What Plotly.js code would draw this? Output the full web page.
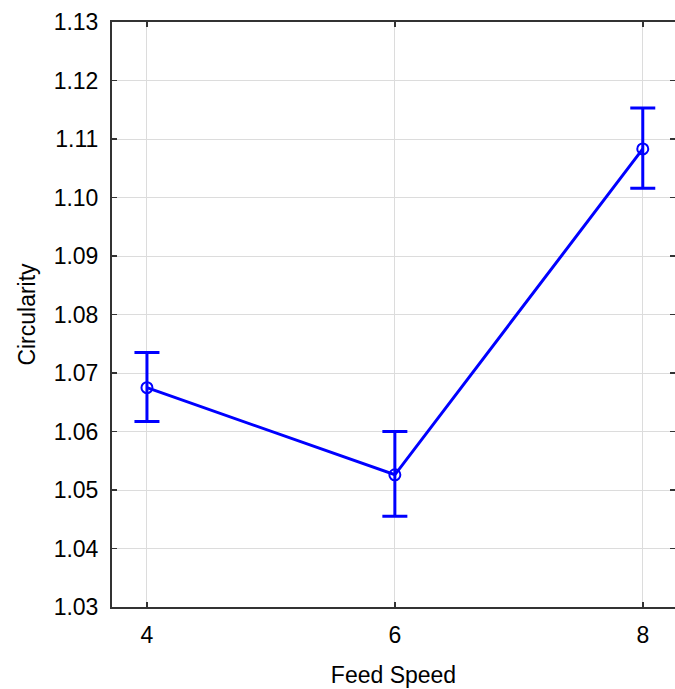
<!DOCTYPE html>
<html>
<head>
<meta charset="utf-8">
<script src="https://cdn.plot.ly/plotly-3.0.1.min.js"></script>
<style>html,body{margin:0;padding:0;background:#fff;}#chart{width:675px;height:689px;}</style>
</head>
<body>
<div id="chart"></div>
<script>
const feedSpeed = [4, 6, 8];
const circularity = [1.0675, 1.0526, 1.1083];
const upperBound = [1.0735, 1.0600, 1.1153];
const lowerBound = [1.0617, 1.0455, 1.1016];
const yTickVals = [1.03, 1.04, 1.05, 1.06, 1.07, 1.08, 1.09, 1.10, 1.11, 1.12, 1.13];
const yTickText = ['1.03','1.04','1.05','1.06','1.07','1.08','1.09','1.10','1.11','1.12','1.13'];

const errPlus = upperBound.map((u, i) => u - circularity[i]);
const errMinus = lowerBound.map((l, i) => circularity[i] - l);

const trace = {
  x: feedSpeed,
  y: circularity,
  type: 'scatter',
  mode: 'lines+markers',
  line: {color: '#0000ff', width: 3},
  marker: {symbol: 'circle-open', size: 11, color: '#0000ff', line: {width: 2, color: '#0000ff'}},
  error_y: {type: 'data', symmetric: false, array: errPlus, arrayminus: errMinus, color: '#0000ff', thickness: 3, width: 12.5},
  showlegend: false,
  cliponaxis: false
};

const fam = 'Liberation Sans, Arial, sans-serif';
const axisFont = {family: fam, size: 23, color: '#000'};
const layout = {
  width: 675, height: 689,
  margin: {l: 112, r: 0, t: 22, b: 82},
  paper_bgcolor: '#fff', plot_bgcolor: '#fff',
  xaxis: {
    range: [3.718, 8.26],
    tickvals: feedSpeed, ticktext: feedSpeed.map(String),
    ticks: 'inside', ticklen: 5, tickwidth: 1.5, tickcolor: '#333',
    showline: true, linecolor: '#333', linewidth: 2, mirror: 'allticks',
    showgrid: true, gridcolor: '#dcdcdc', gridwidth: 1,
    zeroline: false,
    tickfont: axisFont,
    ticklabelstandoff: 6,
    title: {text: 'Feed Speed', font: {family: fam, size: 23, color: '#000'}, standoff: 20}
  },
  yaxis: {
    range: [1.03, 1.13],
    tickvals: yTickVals, ticktext: yTickText,
    ticks: 'inside', ticklen: 5, tickwidth: 1.5, tickcolor: '#333',
    showline: true, linecolor: '#333', linewidth: 2, mirror: 'allticks',
    showgrid: true, gridcolor: '#dcdcdc', gridwidth: 1,
    zeroline: false,
    tickfont: axisFont,
    ticklabelstandoff: 7,
    title: {text: 'Circularity', font: {family: fam, size: 23, color: '#000'}, standoff: 12}
  }
};

Plotly.newPlot('chart', [trace], layout, {displayModeBar: false, staticPlot: true});
</script>
</body>
</html>
